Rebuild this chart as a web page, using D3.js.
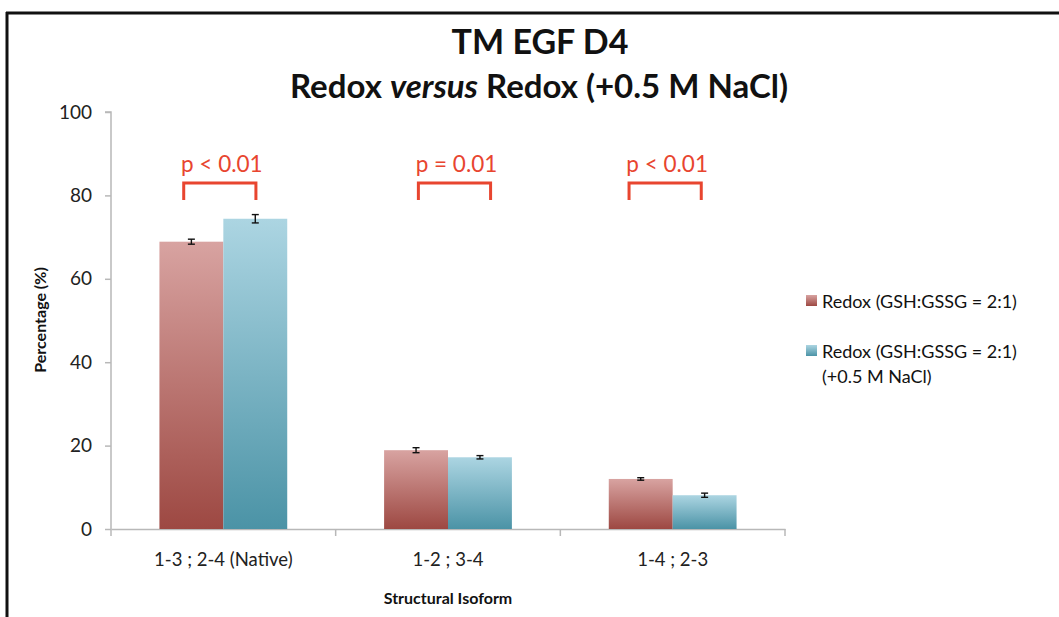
<!DOCTYPE html>
<html>
<head>
<meta charset="utf-8">
<script src="https://cdn.jsdelivr.net/npm/d3@7"></script>
<style>
  html, body { margin: 0; padding: 0; background: #fff; }
  svg { display: block; }
  text { font-family: Lato, "Open Sans", "Liberation Sans", sans-serif; }
</style>
</head>
<body>
<svg id="chart" width="1059" height="617"></svg>
<script>
// Disulfide isoform distribution for TM EGF D4
const categories = ["1-3 ; 2-4 (Native)", "1-2 ; 3-4", "1-4 ; 2-3"];
const seriesNames = ["Redox (GSH:GSSG = 2:1)", "Redox (GSH:GSSG = 2:1) (+0.5 M NaCl)"];
const redoxValues = [68.9, 18.9, 12.0];
const redoxErrors = [0.6, 0.6, 0.3];
const saltValues = [74.4, 17.2, 8.1];
const saltErrors = [1.0, 0.4, 0.5];
const pLabels = ["p < 0.01", "p = 0.01", "p < 0.01"];
const yTicks = [0, 20, 40, 60, 80, 100];

const svg = d3.select("#chart");

// frame lines
svg.append("line").attr("x1", 6).attr("x2", 1059).attr("y1", 13).attr("y2", 13)
  .attr("stroke", "#111").attr("stroke-width", 3);
svg.append("line").attr("x1", 7).attr("x2", 7).attr("y1", 12).attr("y2", 617)
  .attr("stroke", "#111").attr("stroke-width", 3);

// gradients
const defs = svg.append("defs");
function grad(id, top, bottom) {
  const g = defs.append("linearGradient").attr("id", id)
    .attr("x1", 0).attr("y1", 0).attr("x2", 0).attr("y2", 1);
  g.append("stop").attr("offset", "0%").attr("stop-color", top);
  g.append("stop").attr("offset", "100%").attr("stop-color", bottom);
}
grad("gRed", "#d8a3a1", "#9d4842");
grad("gBlue", "#acd5e2", "#4b93a6");

const plot = { left: 111, right: 785, top: 112, bottom: 529 };

const x = d3.scaleBand().domain(categories).range([plot.left, plot.right]).paddingInner(0).paddingOuter(0);
const x1 = d3.scaleBand().domain([0, 1]).range([0, x.bandwidth()]).paddingOuter(0.758).paddingInner(0);
const y = d3.scaleLinear().domain([0, 100]).range([plot.bottom, plot.top]);

// y axis
const yAxis = svg.append("g").attr("transform", `translate(${plot.left},0)`)
  .call(d3.axisLeft(y).tickValues(yTicks).tickSize(6).tickPadding(13));
yAxis.select(".domain").attr("stroke", "#b8b8b8").attr("stroke-width", 1.5)
  .attr("d", `M-6,${plot.top}H0V${plot.bottom}`);
yAxis.selectAll(".tick line").attr("stroke", "#b8b8b8").attr("stroke-width", 1.5);
yAxis.selectAll(".tick text").attr("font-size", 19).attr("fill", "#222");

// x axis
const xAxis = svg.append("g").attr("transform", `translate(0,${plot.bottom})`)
  .call(d3.axisBottom(x).tickSize(0).tickPadding(24));
xAxis.select(".domain").attr("stroke", "#b8b8b8").attr("stroke-width", 1.5);
xAxis.selectAll(".tick text").attr("font-size", 18.5).attr("fill", "#222");
// category separators
const seps = [plot.left].concat(categories.map(c => x(c) + x.bandwidth()));
svg.append("g").selectAll("line").data(seps).join("line")
  .attr("x1", d => d).attr("x2", d => d)
  .attr("y1", plot.bottom).attr("y2", plot.bottom + 7)
  .attr("stroke", "#b8b8b8").attr("stroke-width", 1.5);

// bars
const rows = categories.map((c, i) => [
  { c, s: 0, v: redoxValues[i], e: redoxErrors[i], fill: "url(#gRed)" },
  { c, s: 1, v: saltValues[i], e: saltErrors[i], fill: "url(#gBlue)" }
]).flat();

svg.append("g").selectAll("rect").data(rows).join("rect")
  .attr("x", d => x(d.c) + x1(d.s))
  .attr("width", x1.bandwidth())
  .attr("y", d => y(d.v))
  .attr("height", d => y(0) - y(d.v))
  .attr("fill", d => d.fill);

// error bars
const eb = svg.append("g").attr("stroke", "#111").attr("stroke-width", 1.4);
rows.forEach(d => {
  const cx = x(d.c) + x1(d.s) + x1.bandwidth() / 2;
  const y0 = y(d.v - d.e), y1 = y(d.v + d.e);
  eb.append("line").attr("x1", cx).attr("x2", cx).attr("y1", y0).attr("y2", y1);
  eb.append("line").attr("x1", cx - 3.5).attr("x2", cx + 3.5).attr("y1", y0).attr("y2", y0);
  eb.append("line").attr("x1", cx - 3.5).attr("x2", cx + 3.5).attr("y1", y1).attr("y2", y1);
});

// significance brackets (hand-placed annotations, nudged per group)
const red = "#e8452f";
const nudge = [0, 10, -4];
categories.forEach((c, i) => {
  const xa = x(c) + x1(0) + x1.bandwidth() * 0.38 + nudge[i];
  const xb = x(c) + x1(1) + x1.bandwidth() * 0.51 + nudge[i];
  const top = 183, bot = 200;
  svg.append("path")
    .attr("d", `M${xa},${bot}V${top}H${xb}V${bot}`)
    .attr("fill", "none").attr("stroke", red).attr("stroke-width", 3);
  svg.append("text").attr("x", (xa + xb) / 2 + 2).attr("y", 172)
    .attr("text-anchor", "middle").attr("font-size", 22.5).attr("fill", red)
    .text(pLabels[i]);
});

// titles
svg.append("text").attr("x", 540).attr("y", 54).attr("text-anchor", "middle")
  .attr("font-size", 34).attr("font-weight", "bold").attr("fill", "#111").text("TM EGF D4");
const t2 = svg.append("text").attr("x", 539).attr("y", 98).attr("text-anchor", "middle")
  .attr("font-size", 33).attr("font-weight", "bold").attr("fill", "#111");
t2.append("tspan").text("Redox ");
t2.append("tspan").attr("font-style", "italic").text("versus");
t2.append("tspan").text(" Redox (+0.5 M NaCl)");

// axis titles
svg.append("text").attr("transform", "translate(46,320) rotate(-90)")
  .attr("text-anchor", "middle").attr("font-size", 16).attr("font-weight", "bold")
  .attr("fill", "#111").text("Percentage (%)");
svg.append("text").attr("x", 448).attr("y", 604).attr("text-anchor", "middle")
  .attr("font-size", 16).attr("font-weight", "bold").attr("fill", "#111").text("Structural Isoform");

// legend
const legend = svg.append("g");
const legendItems = [
  { lines: ["Redox (GSH:GSSG = 2:1)"], y: 302 },
  { lines: ["Redox (GSH:GSSG = 2:1)", "(+0.5 M NaCl)"], y: 352 }
];
legendItems.forEach((d, i) => {
  legend.append("rect").attr("x", 806).attr("y", d.y - 7).attr("width", 11).attr("height", 11)
    .attr("fill", i === 0 ? "url(#gRed)" : "url(#gBlue)");
  d.lines.forEach((l, j) => {
    legend.append("text").attr("x", 822).attr("y", d.y + 6 + j * 25)
      .attr("font-size", 18).attr("fill", "#111").text(l);
  });
});
</script>
</body>
</html>
